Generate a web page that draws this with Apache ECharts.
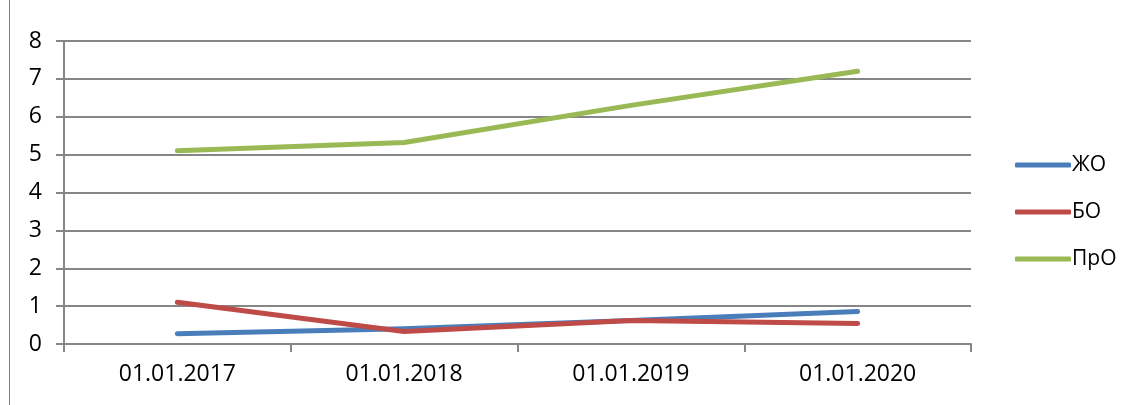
<!DOCTYPE html>
<html>
<head>
<meta charset="utf-8">
<script src="https://cdn.jsdelivr.net/npm/echarts@6/dist/echarts.min.js"></script>
<style>
html,body{margin:0;padding:0;background:#fff;}
#chart{width:1132px;height:405px;}
</style>
</head>
<body>
<div id="chart"></div>
<script>
var categories = ['01.01.2017', '01.01.2018', '01.01.2019', '01.01.2020'];
var seriesNames = ['ЖО', 'БО', 'ПрО'];
var zhoValues = [0.27, 0.40, 0.62, 0.86];
var boValues = [1.10, 0.33, 0.62, 0.54];
var proValues = [5.10, 5.32, 6.30, 7.20];
var yTicks = [0, 1, 2, 3, 4, 5, 6, 7, 8];

var colors = ['#4a7ebb', '#be4b48', '#98b954'];
var font = 'Open Sans';

function lineSeries(name, data, color) {
  return {
    name: name,
    type: 'line',
    data: data,
    symbol: 'none',
    smooth: false,
    lineStyle: { color: color, width: 5, cap: 'round', join: 'round' },
    itemStyle: { color: color },
    emphasis: { disabled: true },
    animation: false
  };
}

var chart = echarts.init(document.getElementById('chart'), null, { renderer: 'canvas' });
chart.setOption({
  animation: false,
  backgroundColor: '#ffffff',
  grid: { left: 64, right: 161, top: 41, bottom: 61, containLabel: false },
  graphic: [{
    type: 'line',
    shape: { x1: 9.5, y1: 0, x2: 9.5, y2: 405 },
    style: { stroke: '#7f7f7f', lineWidth: 1 }
  }],
  legend: {
    orient: 'vertical',
    left: 1010,
    top: 149,
    itemWidth: 56,
    itemHeight: 5,
    itemGap: 25,
    icon: 'roundRect',
    textStyle: { fontFamily: font, fontSize: 21, color: '#000', lineHeight: 22, padding: [0, 0, 0, -4] },
    data: seriesNames
  },
  xAxis: {
    type: 'category',
    data: categories,
    boundaryGap: true,
    axisLine: { show: true, lineStyle: { color: '#868686', width: 2 } },
    axisTick: { show: true, length: 8, inside: false, lineStyle: { color: '#868686', width: 2 } },
    axisLabel: { fontFamily: font, fontSize: 23, color: '#000', margin: 19 },
    splitLine: { show: false }
  },
  yAxis: {
    type: 'value',
    min: yTicks[0],
    max: yTicks[yTicks.length - 1],
    interval: 1,
    axisLine: { show: true, lineStyle: { color: '#868686', width: 2 } },
    axisTick: { show: true, length: 8, lineStyle: { color: '#868686', width: 2 } },
    axisLabel: { fontFamily: font, fontSize: 23, color: '#000', margin: 22 },
    splitLine: { show: true, lineStyle: { color: '#868686', width: 2 } }
  },
  series: [
    lineSeries(seriesNames[0], zhoValues, colors[0]),
    lineSeries(seriesNames[1], boValues, colors[1]),
    lineSeries(seriesNames[2], proValues, colors[2])
  ]
});
</script>
</body>
</html>
